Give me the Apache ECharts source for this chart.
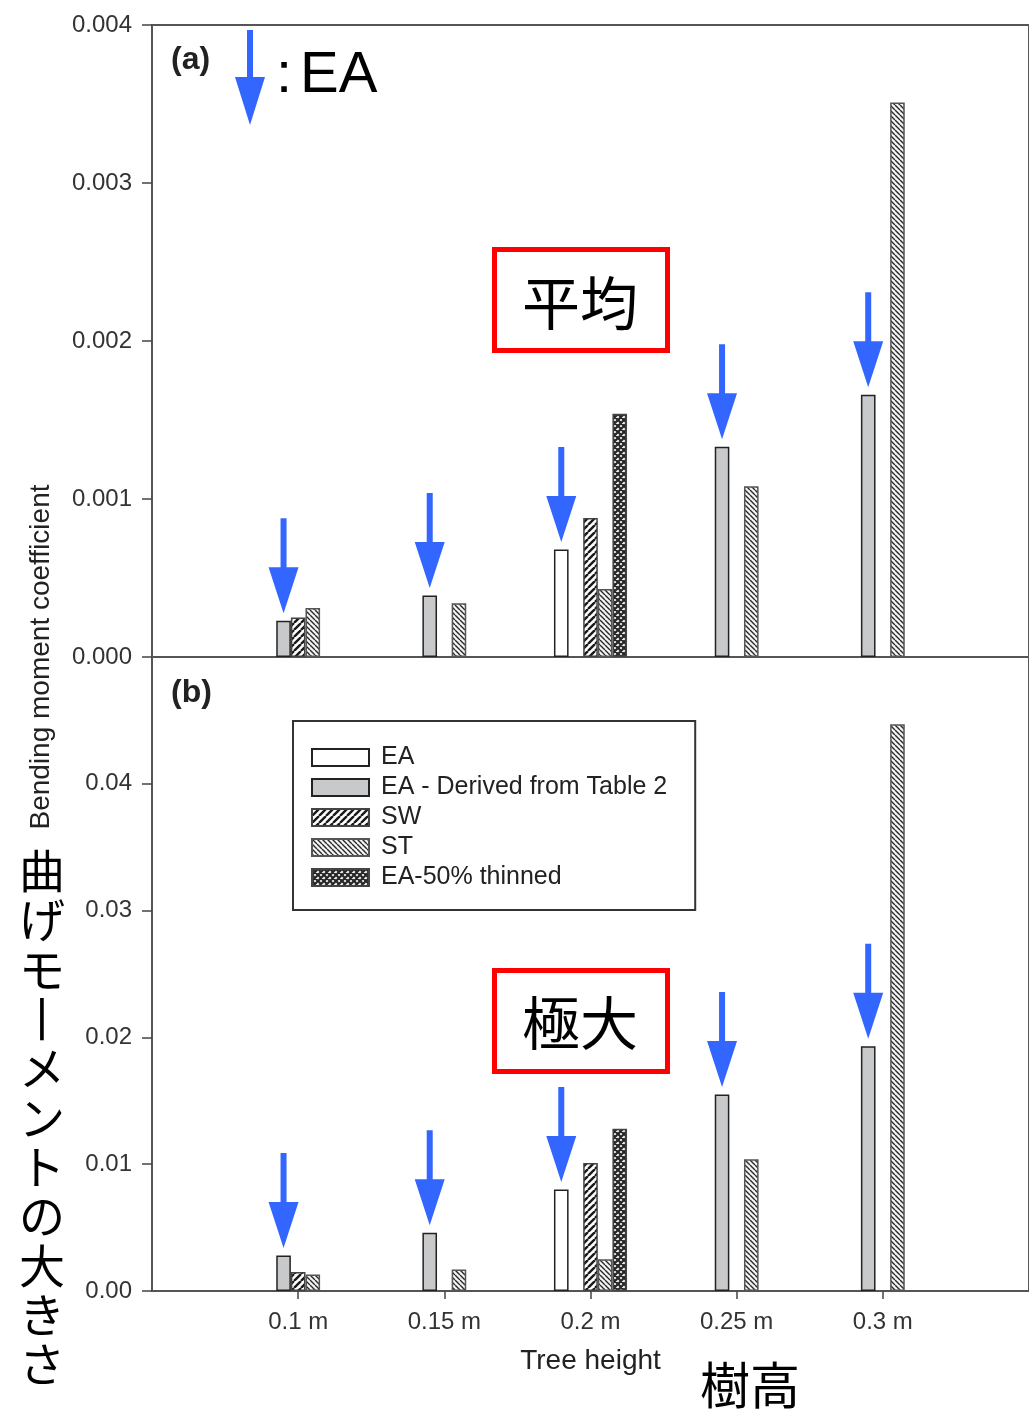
<!DOCTYPE html>
<html>
<head>
<meta charset="utf-8">
<script src="https://cdn.jsdelivr.net/npm/echarts@6/dist/echarts.min.js"></script>
<style>
html,body{margin:0;padding:0;background:#fff;}
#chart{width:1029px;height:1409px;}
</style>
</head>
<body>
<div id="chart"></div>
<script>
// ---- data ----
const categories = ['0.1 m', '0.15 m', '0.2 m', '0.25 m', '0.3 m'];
const seriesNames = ['EA', 'EA - Derived from Table 2', 'SW', 'ST', 'EA-50% thinned'];
// (a) mean bending moment coefficient
const meanEA      = [null, null, 0.00068, null, null];
const meanDerived = [0.00023, 0.00039, null, 0.00133, 0.00166];
const meanSW      = [0.00025, null, 0.00088, null, null];
const meanST      = [0.00031, 0.00034, 0.00043, 0.00108, 0.00351];
const meanThinned = [null, null, 0.00154, null, null];
// (b) maximum bending moment coefficient
const maxEA      = [null, null, 0.0080, null, null];
const maxDerived = [0.0028, 0.0046, null, 0.0155, 0.0193];
const maxSW      = [0.0015, null, 0.0101, null, null];
const maxST      = [0.0013, 0.0017, 0.0025, 0.0104, 0.0447];
const maxThinned = [null, null, 0.0128, null, null];
const topTicks = [0, 0.001, 0.002, 0.003, 0.004];
const bottomTicks = [0, 0.01, 0.02, 0.03, 0.04];

// ---- patterns ----
function hatch(size, lw, dirs, fg, bg) {
  const c = document.createElement('canvas');
  c.width = c.height = size;
  const g = c.getContext('2d');
  g.fillStyle = bg; g.fillRect(0, 0, size, size);
  g.strokeStyle = fg; g.lineWidth = lw; g.beginPath();
  for (const o of [-size, 0, size]) {
    if (dirs.indexOf('/') >= 0) { g.moveTo(o, size); g.lineTo(o + size, 0); }
    if (dirs.indexOf('\\') >= 0) { g.moveTo(o, 0); g.lineTo(o + size, size); }
  }
  g.stroke();
  return c;
}
const fills = [
  '#ffffff',
  '#c8c9cb',
  { image: hatch(7, 2.4, '/', '#1a1a1a', '#ffffff'), repeat: 'repeat' },
  { image: hatch(5, 1.4, '\\', '#2a2a2a', '#f4f4f4'), repeat: 'repeat' },
  { image: hatch(6, 2.2, '/\\', '#262626', '#f0f0f0'), repeat: 'repeat' }
];
const borders = ['#222', '#222', '#444', '#555', '#444'];

const axisCats = [''].concat(categories, ['']);
const pad = arr => [null].concat(arr, [null]);

const ARROW = 'path://M12,0 L18,0 L18,49 L30,49 L15,95 L0,49 L12,49 Z';
function arrows(arr) {
  const d = [];
  arr.forEach((v, i) => { if (v != null) d.push({ coord: [i + 1, v] }); });
  return {
    symbol: ARROW, symbolSize: [30, 95], symbolOffset: [0, -55],
    symbolKeepAspect: false,
    itemStyle: { color: '#3366ff' }, label: { show: false },
    silent: true, data: d
  };
}

const FONT = 'Liberation Sans, Arial, sans-serif';
const JP = 'Noto Sans CJK JP';

function makeSeries(arrs, gi, arrowIdx) {
  return arrs.map((arr, k) => {
    const s = {
      type: 'bar', name: seriesNames[k],
      xAxisIndex: gi, yAxisIndex: gi,
      data: pad(arr), barWidth: '10%', barGap: '0%',
      itemStyle: { color: fills[k], borderColor: borders[k], borderWidth: 1.5 },
      emphasis: { disabled: true }
    };
    if (arrowIdx.indexOf(k) >= 0) s.markPoint = arrows(arr);
    return s;
  });
}

const chart = echarts.init(document.getElementById('chart'), null, { renderer: 'canvas' });

const gridCommon = { left: 152, right: -3, show: true, borderColor: '#555', borderWidth: 2, containLabel: false };

const option = {
  animation: false,
  backgroundColor: '#fff',
  grid: [
    Object.assign({ top: 25, height: 632 }, gridCommon),
    Object.assign({ top: 657, height: 634 }, gridCommon)
  ],
  legend: {
    orient: 'vertical', left: 293, top: 721,
    padding: [24, 28, 20, 18],
    itemWidth: 57, itemHeight: 17, itemGap: 5,
    borderColor: '#333', borderWidth: 2, backgroundColor: '#fff',
    icon: 'rect', selectedMode: false,
    data: seriesNames,
    textStyle: { fontFamily: FONT, fontSize: 25, color: '#222', padding: [0, 0, 0, 7] }
  },
  xAxis: [
    {
      gridIndex: 0, type: 'category', data: axisCats, boundaryGap: false,
      axisLine: { show: true, lineStyle: { color: '#555', width: 2 } },
      axisTick: { show: false }, axisLabel: { show: false }, splitLine: { show: false }
    },
    {
      gridIndex: 1, type: 'category', data: axisCats, boundaryGap: false,
      axisLine: { show: true, lineStyle: { color: '#555', width: 2 } },
      axisTick: { show: true, length: 8, lineStyle: { color: '#444', width: 1.5 },
        interval: (i, v) => v !== '' },
      axisLabel: { show: true, margin: 19, fontFamily: FONT, fontSize: 24, color: '#333',
        interval: (i, v) => v !== '' },
      splitLine: { show: false },
      name: 'Tree height', nameLocation: 'middle', nameGap: 56,
      nameTextStyle: { fontFamily: FONT, fontSize: 28, color: '#222' }
    }
  ],
  yAxis: [
    {
      gridIndex: 0, type: 'value', min: topTicks[0], max: topTicks[topTicks.length - 1], interval: 0.001,
      axisLine: { show: true, lineStyle: { color: '#555', width: 2 } },
      axisTick: { show: true, length: 10, lineStyle: { color: '#444', width: 1.5 } },
      axisLabel: { margin: 20, fontFamily: FONT, fontSize: 24, color: '#333',
        formatter: v => v.toFixed(3) },
      splitLine: { show: false }
    },
    {
      gridIndex: 1, type: 'value', min: bottomTicks[0], max: 0.05, interval: 0.01,
      axisLine: { show: true, lineStyle: { color: '#555', width: 2 } },
      axisTick: { show: true, length: 10, lineStyle: { color: '#444', width: 1.5 } },
      axisLabel: { margin: 20, fontFamily: FONT, fontSize: 24, color: '#333',
        formatter: v => (v > 0.045 ? '' : v.toFixed(2)) },
      splitLine: { show: false }
    }
  ],
  series: [].concat(
    makeSeries([meanEA, meanDerived, meanSW, meanST, meanThinned], 0, [0, 1]),
    makeSeries([maxEA, maxDerived, maxSW, maxST, maxThinned], 1, [0, 1])
  ),
  graphic: [
    { type: 'text', left: 171, top: 44, style: { text: '(a)', font: 'bold 32px ' + FONT, fill: '#222' } },
    { type: 'text', left: 171, top: 677, style: { text: '(b)', font: 'bold 32px ' + FONT, fill: '#222' } },
    { type: 'polygon', shape: { points: [[247, 30], [253, 30], [253, 77], [265, 77], [250, 125], [235, 77], [247, 77]] },
      style: { fill: '#3366ff' } },
    { type: 'text', x: 276, y: 76, style: { text: ':', font: '58px ' + FONT, fill: '#000', textVerticalAlign: 'middle' } },
    { type: 'text', x: 300, y: 76, style: { text: 'EA', font: '58px ' + FONT, fill: '#000', textVerticalAlign: 'middle' } },
    { type: 'rect', shape: { x: 494.5, y: 249.5, width: 173, height: 101 }, style: { fill: 'none', stroke: '#ff0000', lineWidth: 5 } },
    { type: 'text', x: 580, y: 303, style: { text: '平均', font: '58px ' + JP, fill: '#000', textAlign: 'center', textVerticalAlign: 'middle' } },
    { type: 'rect', shape: { x: 494.5, y: 970.5, width: 173, height: 101 }, style: { fill: 'none', stroke: '#ff0000', lineWidth: 5 } },
    { type: 'text', x: 580, y: 1023, style: { text: '極大', font: '58px ' + JP, fill: '#000', textAlign: 'center', textVerticalAlign: 'middle' } },
    { type: 'text', x: 41, y: 657, rotation: Math.PI / 2,
      style: { text: 'Bending moment coefficient', font: '28px ' + FONT, fill: '#222', textAlign: 'center', textVerticalAlign: 'middle' } },
    { type: 'text', x: 42, y: 846,
      style: { text: ['曲', 'げ', 'モ', '丨', 'メ', 'ン', 'ト', 'の', '大', 'き', 'さ'].join('\n'),
        font: '46px ' + JP, lineHeight: 49.3, fill: '#000', textAlign: 'center', textVerticalAlign: 'top' } },
    { type: 'text', x: 750, y: 1385, style: { text: '樹高', font: '50px ' + JP, fill: '#000', textAlign: 'center', textVerticalAlign: 'middle' } }
  ]
};
chart.setOption(option);
</script>
</body>
</html>
